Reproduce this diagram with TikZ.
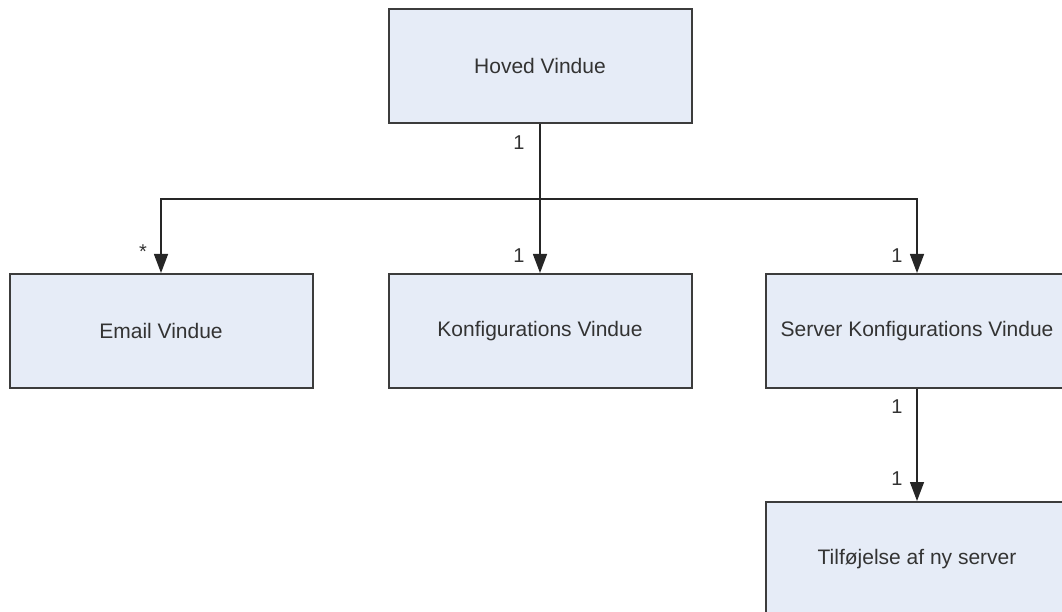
\documentclass[tikz,border=0pt]{standalone}
\usepackage{fontspec}
\setmainfont{Liberation Sans}
\usetikzlibrary{arrows.meta}
\definecolor{boxfill}{HTML}{E6ECF7}
\definecolor{boxline}{HTML}{3C3C3C}
\definecolor{txt}{HTML}{333333}
\begin{document}
\begin{tikzpicture}[x=1pt,y=-1pt,
  win/.style={draw=boxline,line width=2pt,fill=boxfill,minimum width=303pt,
    minimum height=114pt,inner sep=0pt,text=txt,font=\fontsize{21}{25}\selectfont},
  link/.style={draw=black!85,line width=1.4pt,-{Triangle[width=14pt,length=19pt]}},
  mult/.style={text=txt,font=\fontsize{20}{24}\selectfont,inner sep=0pt}]
\useasboundingbox (0,0) rectangle (1062,612);
\clip (0,0) rectangle (1062,612);

% windows
\node[win] (hoved)  at (540,66)  {Hoved Vindue};
\node[win] (email)  at (161,331) {Email Vindue};
\node[win] (konf)   at (540,331) {Konfigurations Vindue};
\node[win] (server) at (917,331) {Server Konfigurations Vindue};
\node[win] (tilf)   at (917,559) {Tilføjelse af ny server};

% junction below the main window
\coordinate (fork) at (hoved.south |- 0,199);

% connectors
\draw[draw=black!85,line width=2.2pt] (hoved.south) -- (fork);
\draw[link] (fork) -| (email.north);
\draw[link] (fork) -- (konf.north);
\draw[link] (fork) -| (server.north);
\draw[link] (server.south) -- (tilf.north);

% multiplicities
\node[mult] (mh)  at (519,143) {1};
\node[mult] (me)  at (143,252) {*};
\node[mult] (mk)  at (519,256) {1};
\node[mult] (ms)  at (897,256) {1};
\node[mult] (ms2) at (897,407) {1};
\node[mult] (mt)  at (897,479) {1};
\end{tikzpicture}
\end{document}
